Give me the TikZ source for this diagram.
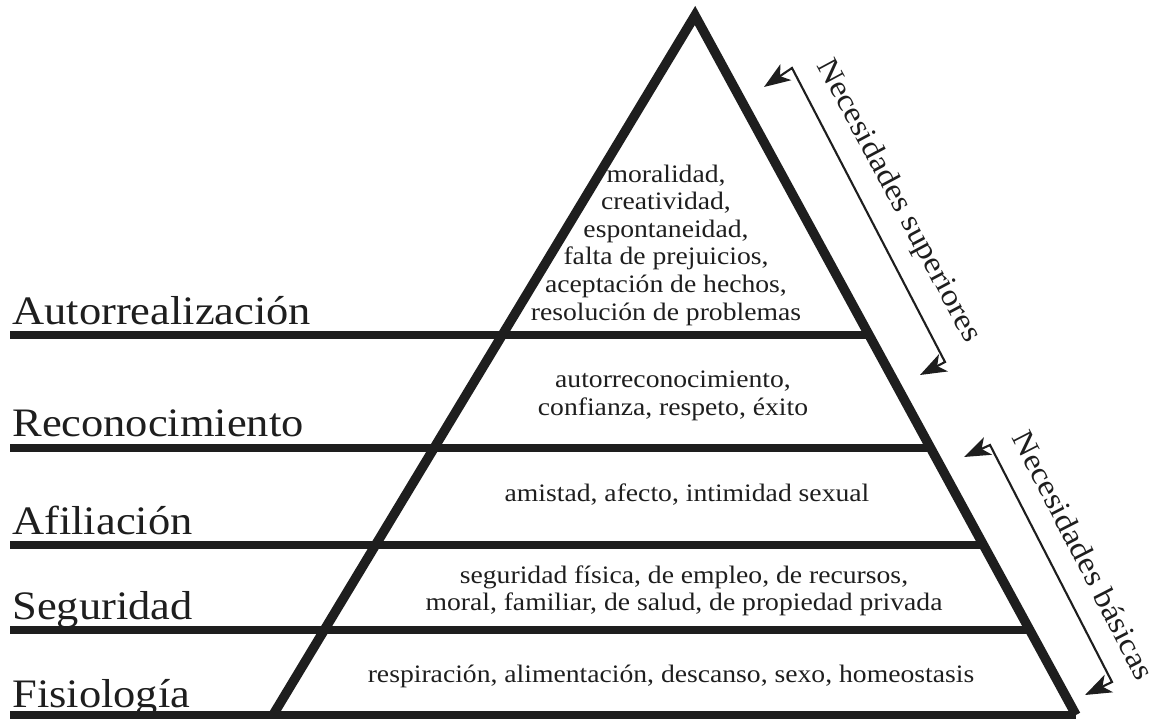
\documentclass[tikz,border=0pt]{standalone}
\usepackage{fontspec}
\setmainfont[FakeStretch=1.1]{Liberation Serif}
\usetikzlibrary{arrows.meta, calc}
\definecolor{ink}{HTML}{1E1E1E}

\begin{document}
\begin{tikzpicture}[
  side/.style={ink, line width=5.4pt, line join=miter},
  level/.style={ink, line width=4.8pt},
  lvllbl/.style={anchor=base west, inner sep=0pt, text=ink,
                 font=\fontsize{23}{26}\selectfont},
  need/.style={align=center, inner sep=0pt, text=ink,
               font=\fontsize{14.3}{15.7}\selectfont},
  brk/.style={ink, line width=1.2pt,
              {Stealth[length=15pt, width=11pt, inset=4pt]}-{Stealth[length=15pt, width=11pt, inset=4pt]}},
  sidelbl/.style={inner sep=0pt, text=ink, font=\fontsize{17.5}{20}\selectfont},
]
\useasboundingbox (0,0) rectangle (23.16,14.38);

% pyramid corners
\coordinate (apex) at (13.90,14.07);
\coordinate (bl) at (5.46,0.08);
\coordinate (br) at (21.52,0.08);

% level names
\node[lvllbl] (autoLbl) at (0.24,7.88) {Autorrealización};
\node[lvllbl] (recoLbl) at (0.24,5.64) {Reconocimiento};
\node[lvllbl] (afilLbl) at (0.24,3.68) {Afiliación};
\node[lvllbl] (seguLbl) at (0.24,1.98) {Seguridad};
\node[lvllbl] (fisiLbl) at (0.24,0.24) {Fisiología};

% contents of each level
\node[need] (autoTxt) at (13.32,9.48)
  {moralidad,\\creatividad,\\espontaneidad,\\falta de prejuicios,\\
   aceptación de hechos,\\resolución de problemas};
\node[need] (recoTxt) at (13.46,6.46)
  {autorreconocimiento,\\confianza, respeto, éxito};
\node[need] (afilTxt) at (13.74,4.48) {amistad, afecto, intimidad sexual};
\node[need] (seguTxt) at (13.68,2.56)
  {seguridad física, de empleo, de recursos,\\
   moral, familiar, de salud, de propiedad privada};
\node[need] (fisiTxt) at (13.42,0.86)
  {respiración, alimentación, descanso, sexo, homeostasis};

% level lines
\draw[level] (0.20,7.68) -- (17.38,7.68);
\draw[level] (0.20,5.42) -- (18.61,5.42);
\draw[level] (0.20,3.48) -- (19.67,3.48);
\draw[level] (0.20,1.78) -- (20.59,1.78);
\draw[level] (0.20,0.08) -- (br);

% sides
\draw[side] (bl) -- (apex) -- (br);

% brackets on the right
\coordinate (supA) at (15.28,12.64);
\coordinate (supB) at (15.84,13.02);
\coordinate (supC) at (18.90,7.14);
\coordinate (supD) at (18.40,6.88);
\draw[brk] (supA) -- (supB) -- (supC) -- (supD);
\node[sidelbl, rotate=-61.8] (supLbl) at (17.96,10.36) {Necesidades superiores};

\coordinate (basA) at (19.28,5.24);
\coordinate (basB) at (19.80,5.48);
\coordinate (basC) at (22.24,0.74);
\coordinate (basD) at (21.70,0.48);
\draw[brk] (basA) -- (basB) -- (basC) -- (basD);
\node[sidelbl, rotate=-62.8] (basLbl) at (21.68,3.28) {Necesidades básicas};

\end{tikzpicture}
\end{document}
